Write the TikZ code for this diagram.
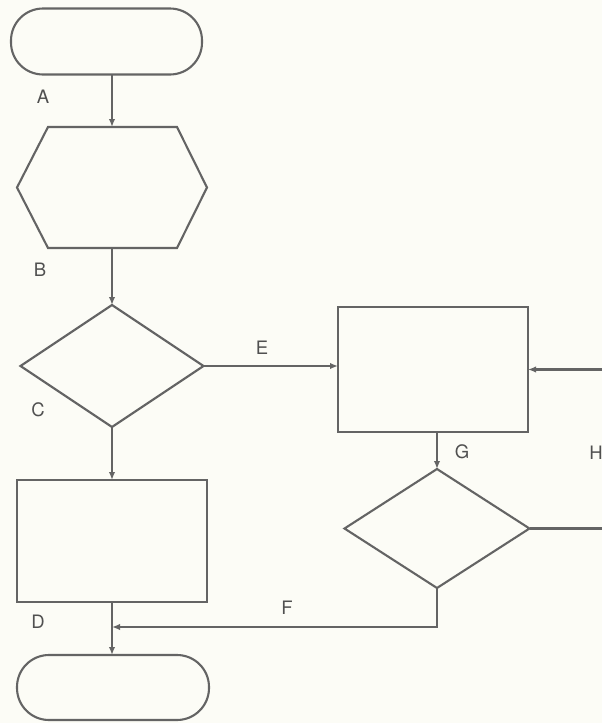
\documentclass[tikz,border=0pt]{standalone}
\usepackage{fontspec}
\setmainfont{TeX Gyre Heros}
\usetikzlibrary{shapes.geometric,arrows.meta}
\definecolor{ink}{RGB}{100,100,100}
\definecolor{txt}{RGB}{80,80,80}
\definecolor{paper}{RGB}{252,252,246}
\begin{document}
\begin{tikzpicture}[x=1pt,y=-1pt,
  ln/.style={draw=ink,line width=2.1pt},
  shp/.style={ln,inner sep=0pt,outer sep=0pt},
  term/.style={shp,rectangle,rounded corners=32pt,minimum width=191pt,minimum height=66pt},
  box/.style={shp,rectangle,minimum width=190pt},
  dia/.style={shp,diamond},
  ghost/.style={rectangle,inner sep=0pt,outer sep=0pt},
  lab/.style={text=txt,font=\fontsize{18.5}{18.5}\selectfont,inner sep=0pt},
  arr/.style={ln,-{Latex[length=8pt,width=6.5pt]}}]
\fill[paper] (0,0) rectangle (602,723);
\useasboundingbox (0,0) rectangle (602,723);
% shapes
\node[term] (t1) at (106.5,41.5) {};
\node[ghost,minimum width=190pt,minimum height=121pt] (hex) at (112,187.5) {};
\draw[ln,line join=miter] ([xshift=-64pt]hex.north) -- ([xshift=65pt]hex.north) -- (hex.east)
  -- ([xshift=65pt]hex.south) -- ([xshift=-64pt]hex.south) -- (hex.west) -- cycle;
\node[dia,minimum width=183pt,minimum height=122pt] (c) at (112,366) {};
\node[box,minimum height=122pt] (d) at (112,541) {};
\node[term,minimum width=192pt,minimum height=65pt] (t2) at (113,687.5) {};
\node[box,minimum height=125pt] (r) at (433,369.5) {};
\node[dia,minimum width=185pt,minimum height=119pt] (d2) at (437,528.5) {};
% free ends
\coordinate (hin) at (602,369.5);
\coordinate (hout) at (602,528.5);
\coordinate (fj) at (112,627);
% connectors
\draw[arr] (hex.north |- t1.south) -- (hex.north);
\draw[arr] (hex.south) -- (c.north);
\draw[arr] (c.south) -- (d.north);
\draw[arr] (c.east) -- (c.east -| r.west);
\draw[arr] (hin) -- (r.east);
\draw[arr] (d2.north |- r.south) -- (d2.north);
\draw[ln] (d2.east) -- (hout);
\draw[arr] (d2.south) |- (fj);
\draw[arr] (d.south) -- (d.south |- t2.north);
% labels
\node[lab] (la) at (43,97) {A};
\node[lab] (lb) at (40,270) {B};
\node[lab] (lc) at (38,410) {C};
\node[lab] (ld) at (38,622) {D};
\node[lab] (le) at (262,348) {E};
\node[lab] (lf) at (287,608) {F};
\node[lab] (lg) at (462,452) {G};
\node[lab] (lh) at (596,453) {H};
\end{tikzpicture}
\end{document}
